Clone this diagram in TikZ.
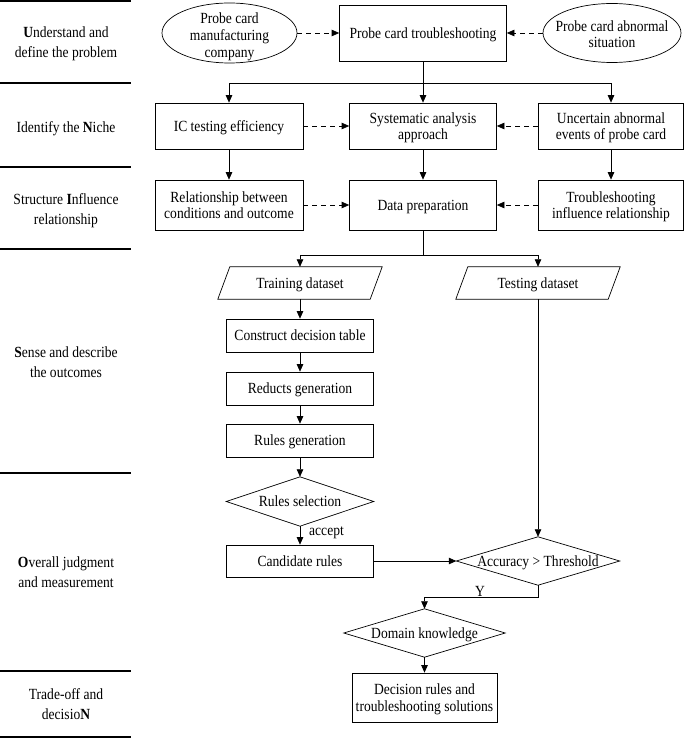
\documentclass[tikz,border=0pt]{standalone}
\usepackage{fontspec}
\setmainfont{Liberation Serif}[FakeStretch=0.875]
\usetikzlibrary{arrows.meta,shapes.geometric,calc}
\begin{document}
\begin{tikzpicture}[x=1pt,y=-1pt,
  every node/.style={font=\fontsize{15.5}{16.7}\selectfont, align=center, inner sep=0pt, text depth=0pt},
  stagelabel/.style={font=\fontsize{15.5}{20.5}\selectfont},
  pbox/.style={draw, line width=0.7pt},
  conn/.style={line width=0.7pt},
  arr/.style={conn, -{Triangle[length=7.5pt,width=6.5pt]}},
  darr/.style={arr, dash pattern=on 5pt off 4pt},
  sepline/.style={line width=2pt},
  oval/.style={ellipse, draw, line width=0.7pt}
]
\useasboundingbox (0,0) rectangle (685,738);

% left stage separators
\foreach \yy/\nm in {1/s0,83/s1,167/s2,249/s3,473/s4,671/s5,737/s6}{
  \coordinate (\nm a) at (0,\yy);
  \coordinate (\nm b) at (131,\yy);
  \draw[sepline] (\nm a) -- (\nm b);
}

% left stage labels
\node[stagelabel] (L1) at (66,42) {{\bfseries U}nderstand and\\define the problem};
\node[stagelabel] (L2) at (66,127) {Identify the {\bfseries N}iche};
\node[stagelabel] (L3) at (66,209) {Structure {\bfseries I}nfluence\\relationship};
\node[stagelabel] (L4) at (66,362) {{\bfseries S}ense and describe\\the outcomes};
\node[stagelabel] (L5) at (66,572) {{\bfseries O}verall judgment\\and measurement};
\node[stagelabel] (L6) at (66,704) {Trade-off and\\decisio{\bfseries N}};

% row 1
\node[pbox, minimum width=167, minimum height=56] (pct) at (423,33) {Probe card troubleshooting};
\node[oval, minimum width=135, minimum height=60] (e1) at (229.5,33) {};
\node[yshift=-2pt] (e1t) at (e1.center) {Probe card\\manufacturing\\company};
\node[oval, minimum width=138, minimum height=59] (e2) at (612,33) {};
\node[yshift=-1pt] (e2t) at (e2.center) {Probe card abnormal\\situation};
\draw[darr] (e1.east) -- (pct.west);
\draw[darr] (e2.west) -- (pct.east);

% row 2
\node[pbox, minimum width=148, minimum height=46] (ic) at (229,126) {IC testing efficiency};
\node[pbox, minimum width=147, minimum height=46] (sys) at (423,126) {Systematic analysis\\approach};
\node[pbox, minimum width=145, minimum height=46] (unc) at (611,126) {Uncertain abnormal\\events of probe card};
\coordinate (j1) at (423,83);
\draw[arr] (pct.south) -- (sys.north);
\draw[arr] (j1) -| (ic.north);
\draw[arr] (j1) -| (unc.north);
\draw[darr] (ic.east) -- (sys.west);
\draw[darr] (unc.west) -- (sys.east);

% row 3
\node[pbox, minimum width=148, minimum height=50] (rel) at (229,205) {Relationship between\\conditions and outcome};
\node[pbox, minimum width=147, minimum height=50] (dp) at (423,205) {Data preparation};
\node[pbox, minimum width=145, minimum height=50] (tir) at (611,205) {Troubleshooting\\influence relationship};
\draw[arr] (ic.south) -- (rel.north);
\draw[arr] (sys.south) -- (dp.north);
\draw[arr] (unc.south) -- (tir.north);
\draw[darr] (rel.east) -- (dp.west);
\draw[darr] (tir.west) -- (dp.east);

% datasets
\node[minimum width=152, minimum height=32] (train) at (300,283) {Training dataset};
\draw[conn] ([xshift=-6pt]train.south west) -- ([xshift=6pt]train.north west) -- ([xshift=6pt]train.north east) -- ([xshift=-6pt]train.south east) -- cycle;
\node[minimum width=152, minimum height=32] (test) at (538,283) {Testing dataset};
\draw[conn] ([xshift=-6pt]test.south west) -- ([xshift=6pt]test.north west) -- ([xshift=6pt]test.north east) -- ([xshift=-6pt]test.south east) -- cycle;
\coordinate (j2) at (423,255);
\draw[conn] (dp.south) -- (j2);
\draw[arr] (j2) -| (train.north);
\draw[arr] (j2) -| (test.north);

% training chain
\node[pbox, minimum width=147, minimum height=33] (cdt) at (300,335.5) {Construct decision table};
\node[pbox, minimum width=147, minimum height=33] (rg) at (300,388.5) {Reducts generation};
\node[pbox, minimum width=147, minimum height=33] (rul) at (300,440.5) {Rules generation};
\node[minimum width=147, minimum height=49] (rs) at (300,501.5) {Rules selection};
\draw[conn] (rs.west) -- (rs.north) -- (rs.east) -- (rs.south) -- cycle;
\node[pbox, minimum width=147, minimum height=32] (cand) at (300,561) {Candidate rules};
\draw[arr] (train.south) -- (cdt.north);
\draw[arr] (cdt.south) -- (rg.north);
\draw[arr] (rg.south) -- (rul.north);
\draw[arr] (rul.south) -- (rs.north);
\draw[arr] (rs.south) -- (cand.north);
\node[anchor=west] (acclab) at (309,531) {accept};

% evaluation
\node[minimum width=163, minimum height=48] (acc) at (538,561) {Accuracy > Threshold};
\draw[conn] (acc.west) -- (acc.north) -- (acc.east) -- (acc.south) -- cycle;
\draw[arr] (test.south) -- (acc.north);
\draw[arr] (cand.east) -- (acc.west);

\node[minimum width=161, minimum height=48] (dk) at (424.5,633) {Domain knowledge};
\draw[conn] (dk.west) -- (dk.north) -- (dk.east) -- (dk.south) -- cycle;
\coordinate (jy) at (424.5,597);
\draw[arr] (acc.south) |- (jy) -- (dk.north);
\node (ylab) at (480,591) {Y};

\node[pbox, minimum width=145, minimum height=49] (dec) at (424.5,697.5) {Decision rules and\\troubleshooting solutions};
\draw[arr] (dk.south) -- (dec.north);
\end{tikzpicture}
\end{document}
